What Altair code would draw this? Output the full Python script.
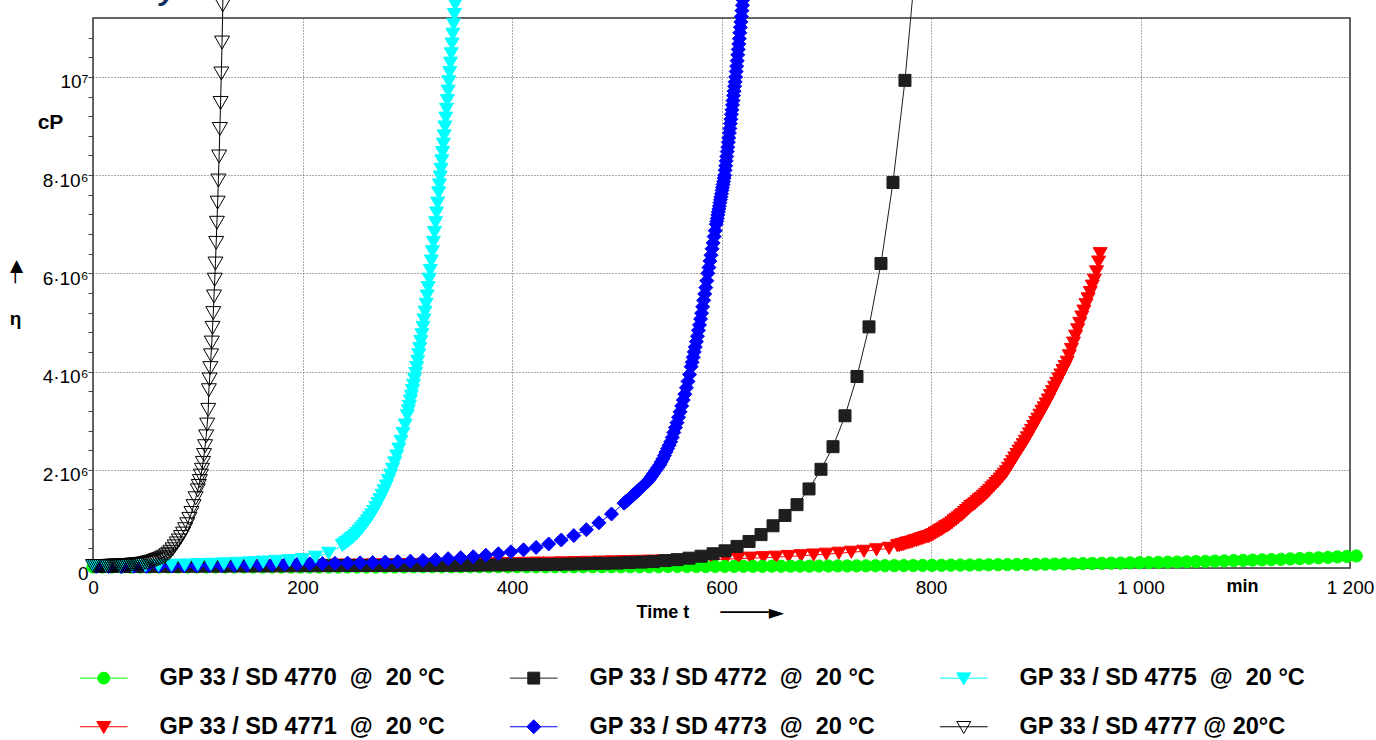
import altair as alt
import pandas as pd

# Viscosity build-up of GP 33 with the SD 47xx hardeners at 20 °C.
# Times in min, viscosities in 10^6 cP.

t_4770 = [0, 9, 18, 27, 36, 45, 54, 63, 72, 81, 90, 99, 108, 117, 126, 135, 144, 153, 162, 171,
          180, 189, 198, 207, 216, 225, 234, 243, 252, 261, 270, 279, 288, 297,
          306, 315, 324, 333, 342, 351, 360, 369, 378, 387, 396, 405, 414, 423, 432, 441,
          450, 459, 468, 477, 486, 495, 504, 513, 522, 531, 540,
          549, 558, 567, 576, 585, 594, 603, 612, 621, 630, 639, 648, 657, 666, 675, 684,
          693, 702, 711, 720, 729, 738, 747, 756, 765, 774, 783, 792, 801, 810, 819, 828,
          837, 846, 855, 864, 873, 882, 891, 900, 909, 918, 927, 936, 945, 954, 963, 972,
          981, 990, 999, 1008, 1017, 1026, 1035, 1044, 1053, 1062, 1071, 1080, 1089, 1098,
          1107, 1116, 1125, 1134, 1143, 1152, 1161, 1170, 1179, 1188, 1197, 1206]
v_4770 = [0.02, 0.02, 0.02, 0.02, 0.02, 0.02, 0.02, 0.02, 0.02, 0.02, 0.02, 0.02, 0.02, 0.02,
          0.02, 0.02, 0.02, 0.02, 0.02, 0.02, 0.02, 0.02, 0.02, 0.02, 0.02, 0.02, 0.02, 0.02,
          0.02, 0.02, 0.02, 0.02, 0.02, 0.02,
          0.025, 0.025, 0.025, 0.025, 0.025, 0.025, 0.025, 0.025, 0.025, 0.025, 0.025, 0.025,
          0.025, 0.025, 0.025, 0.025, 0.025, 0.025, 0.025, 0.025, 0.025, 0.025, 0.025, 0.025,
          0.025, 0.025, 0.025,
          0.03, 0.03, 0.03, 0.03, 0.03, 0.032, 0.032, 0.032, 0.034, 0.034, 0.034, 0.036, 0.036,
          0.036, 0.038, 0.038, 0.04, 0.04, 0.042, 0.042, 0.044, 0.044, 0.046, 0.046, 0.048, 0.05,
          0.05, 0.052, 0.054, 0.055, 0.057, 0.059, 0.061, 0.063, 0.065, 0.067, 0.069, 0.071,
          0.073, 0.075, 0.078, 0.08, 0.083, 0.086, 0.089, 0.092, 0.095, 0.098, 0.10, 0.104,
          0.107, 0.11, 0.114, 0.118, 0.122, 0.126, 0.13, 0.135, 0.14, 0.145, 0.15, 0.155, 0.16,
          0.166, 0.172, 0.178, 0.185, 0.192, 0.2, 0.208, 0.216, 0.225, 0.235, 0.245]

t_4771 = [4, 16, 28, 40, 52, 64, 76, 88, 100, 112, 124, 136, 148, 160, 172, 184, 196, 208, 220,
          232, 244, 256, 268, 280, 292, 304, 316, 328, 340, 352, 364, 376, 388, 400, 412, 424,
          436, 448, 460, 472, 484, 496, 508, 520, 532, 544, 556, 568, 580, 592, 604, 616, 628,
          640, 652, 664, 676, 688, 700, 712, 724, 736, 748, 760,
          768, 770, 772, 774, 776, 778, 780, 782, 784, 786, 788, 790, 792, 794, 796, 798,
          800, 802, 804, 806, 808, 810, 812, 814, 816, 818, 820, 822, 824, 826, 828, 830, 832,
          834, 836, 838, 840, 842, 844, 846, 848, 850, 852, 854, 856, 858, 860, 862, 864, 866,
          868, 870, 872, 874, 876, 878, 880, 882, 884, 886, 888, 890, 892, 894, 896, 898, 900,
          902, 904, 906, 908, 910, 912, 914, 916, 918, 920, 922, 924, 926, 928, 930, 932, 934,
          936, 938, 940, 942, 944, 946, 948, 950, 952, 954, 956, 958, 960, 961.5]
v_4771 = [0.03, 0.03, 0.03, 0.03, 0.035, 0.035, 0.035, 0.04, 0.04, 0.04, 0.045, 0.045, 0.045,
          0.05, 0.05, 0.05, 0.055, 0.055, 0.055, 0.06, 0.06, 0.06, 0.065, 0.065, 0.07, 0.07,
          0.075, 0.075, 0.08, 0.08, 0.085, 0.085, 0.09, 0.09, 0.095, 0.10, 0.10, 0.105, 0.11,
          0.115, 0.12, 0.125, 0.13, 0.135, 0.14, 0.145, 0.15, 0.16, 0.165, 0.17, 0.18, 0.19,
          0.20, 0.21, 0.22, 0.235, 0.25, 0.265, 0.28, 0.30, 0.32, 0.34, 0.37, 0.40,
          0.45, 0.46, 0.47, 0.48, 0.50, 0.51, 0.52, 0.53, 0.55, 0.56, 0.57, 0.59, 0.60, 0.62,
          0.63, 0.64,
          0.66, 0.68, 0.71, 0.73, 0.76, 0.78, 0.81, 0.84, 0.86, 0.89, 0.92, 0.96, 0.99, 1.02,
          1.06, 1.09, 1.13, 1.17, 1.21, 1.25, 1.28,
          1.31, 1.35, 1.39, 1.42, 1.46, 1.50, 1.54, 1.58, 1.63, 1.67, 1.72, 1.76, 1.81, 1.86,
          1.91, 1.96,
          2.03, 2.10, 2.17, 2.24, 2.31, 2.38, 2.44, 2.51, 2.58,
          2.65, 2.73, 2.80, 2.88, 2.96, 3.03, 3.11, 3.19, 3.26, 3.34,
          3.42, 3.51, 3.59, 3.68, 3.76, 3.85, 3.93, 4.02, 4.10, 4.19,
          4.32, 4.45, 4.58, 4.72, 4.85, 4.98,
          5.11, 5.23, 5.36, 5.48, 5.61, 5.74, 5.86,
          6.03, 6.23, 6.40]

t_4772 = [8.0, 19.45, 30.9, 42.35, 53.8, 65.25, 76.7, 88.15, 99.6, 111.05, 122.5, 133.95, 145.4,
          156.85, 168.3, 179.75, 191.2, 202.65, 214.1, 225.55, 237.0, 248.45, 259.9, 271.35,
          282.8, 294.25, 305.7, 317.15, 328.6, 340.05, 351.5, 362.95, 374.4, 385.85, 397.3,
          408.75, 420.2, 431.65, 443.1, 454.55, 466.0, 477.45, 488.9, 500.35, 511.8, 523.25,
          534.7, 546.15, 557.6, 569.05, 580.5, 591.95, 603.4, 614.85, 626.3, 637.75, 649.2,
          660.65, 672.1, 683.55, 695.0, 706.45, 717.9, 729.35, 740.8, 752.25, 763.7, 775.15,
          786.6]
v_4772 = [0.03, 0.03, 0.03, 0.032, 0.032, 0.034, 0.034, 0.036, 0.036, 0.038,
          0.038, 0.04, 0.04, 0.042, 0.042, 0.044, 0.045, 0.046, 0.047, 0.048,
          0.049, 0.05, 0.05, 0.051, 0.052, 0.053, 0.054, 0.054, 0.055, 0.055,
          0.056, 0.058, 0.06, 0.062, 0.064, 0.067, 0.07, 0.072, 0.075, 0.08,
          0.085, 0.09, 0.095, 0.10, 0.11, 0.12, 0.13, 0.15, 0.17, 0.20,
          0.24, 0.29, 0.35, 0.44, 0.54, 0.68, 0.86, 1.07, 1.29, 1.61,
          2.01, 2.47, 3.10, 3.90, 4.91, 6.20, 7.85, 9.93, 12.6]

t_4773 = [3, 15, 27, 39, 51, 63, 75, 87, 99, 111, 123, 135, 147, 159, 171, 183, 195, 207, 219,
          231, 243, 255, 267, 279, 291, 303, 315, 327, 339, 351, 363, 375, 387, 399, 411, 423,
          435, 447, 459, 471, 483, 495,
          507, 509, 511, 513, 515, 517, 519, 521, 523, 525, 527, 529, 531, 533, 535, 537, 539, 541,
          542.5, 544, 545.5, 547, 548.5, 550, 551.5, 553, 554.5, 556, 557.5, 559, 560.5, 562,
          563.5, 565, 566.5, 568, 569.5,
          571, 572, 573, 574, 575, 576, 577, 578, 579, 580, 581, 582, 583, 584, 585, 586, 587,
          588, 589, 590, 591, 592, 593, 594, 595,
          595.5, 596, 596.5, 597, 597.5, 598, 598.5, 599, 599.5, 600, 600.5, 601, 601.5, 602,
          602.5, 603, 603.5, 604, 604.5, 605, 605.5, 606, 606.5, 607, 607.5, 608, 608.5, 609,
          609.5, 610, 610.5, 611, 611.5, 612, 612.5, 613, 613.5, 614, 614.5, 615, 615.5, 616,
          616.5, 617, 617.5, 618, 618.5, 619, 619.5, 620, 620.5, 621]
v_4773 = [0.03, 0.03, 0.03, 0.035, 0.035, 0.04, 0.04, 0.045, 0.045, 0.05, 0.05, 0.055, 0.06,
          0.065, 0.07, 0.075, 0.08, 0.085, 0.09, 0.095, 0.10, 0.105, 0.11, 0.12, 0.13, 0.14,
          0.155, 0.17, 0.19, 0.21, 0.23, 0.26, 0.29, 0.33, 0.37, 0.42, 0.49, 0.57, 0.66, 0.78,
          0.92, 1.10,
          1.32, 1.36, 1.39, 1.43, 1.47, 1.51, 1.55, 1.59, 1.63, 1.67, 1.71, 1.75, 1.80, 1.86,
          1.92, 1.98, 2.04, 2.10,
          2.16, 2.22, 2.29, 2.36, 2.43, 2.50, 2.57, 2.66, 2.76, 2.86, 2.96, 3.07, 3.18, 3.30,
          3.42, 3.54, 3.67, 3.80, 3.94,
          4.10, 4.19, 4.29, 4.40, 4.50, 4.61, 4.72, 4.84, 4.95, 5.07, 5.19, 5.32, 5.45, 5.58,
          5.71, 5.85, 6.00, 6.12, 6.25, 6.37, 6.50, 6.62, 6.75, 6.87, 7.00,
          7.06, 7.12, 7.19, 7.25, 7.31, 7.37, 7.44, 7.50, 7.56, 7.62, 7.69, 7.75, 7.81, 7.87,
          7.94, 8.00, 8.10, 8.19, 8.29, 8.38, 8.48, 8.57, 8.67, 8.76, 8.86, 8.95, 9.05, 9.14,
          9.24, 9.33, 9.43, 9.52, 9.62, 9.71, 9.81, 9.90, 10.00, 10.11, 10.22, 10.33, 10.45,
          10.56, 10.67, 10.78, 10.90, 11.01, 11.12, 11.23, 11.35, 11.46, 11.57, 11.68]

t_4775 = [0, 12.5, 25, 37.5, 50, 62.5, 75, 87.5, 100, 112.5, 125, 137.5, 150, 162.5, 175,
          187.5, 200, 212.5, 225,
          238, 240, 242, 244, 246, 248, 250, 252, 254, 256, 258, 260, 262, 264, 266, 268, 270,
          272, 274, 276, 278, 280, 282, 284, 286, 288, 290, 292, 294, 296, 298, 300,
          301, 302, 303, 304, 305, 306, 307, 308, 309, 310, 311, 312, 313, 314, 315, 316, 317,
          318, 319, 320, 321, 322, 323, 324, 325, 326, 327, 328, 329, 330,
          330.75, 331.5, 332.25, 333, 333.75, 334.5, 335.25, 336, 336.75, 337.5, 338.25, 339,
          339.75, 340.5, 341.25, 342, 342.75, 343.5, 344.25, 345, 345.75, 346.5]
v_4775 = [0.03, 0.03, 0.035, 0.04, 0.045, 0.05, 0.055, 0.06, 0.07, 0.075, 0.085, 0.095, 0.105,
          0.12, 0.135, 0.15, 0.17, 0.22, 0.30,
          0.46, 0.49, 0.52, 0.55, 0.59, 0.62, 0.66, 0.70, 0.75, 0.80, 0.85, 0.90, 0.96, 1.02,
          1.08, 1.15, 1.23, 1.31, 1.39, 1.48, 1.57, 1.67, 1.78, 1.89, 2.01, 2.14, 2.28, 2.42,
          2.58, 2.74, 2.91, 3.10,
          3.20, 3.29, 3.40, 3.50, 3.61, 3.72, 3.84, 3.96, 4.08, 4.21, 4.34, 4.47, 4.61, 4.75,
          4.90, 5.05, 5.21, 5.37, 5.54, 5.71, 5.88, 6.06, 6.25, 6.44, 6.63, 6.83, 7.03, 7.23,
          7.43, 7.64,
          7.80, 7.96, 8.12, 8.29, 8.46, 8.63, 8.80, 8.98, 9.16, 9.34, 9.52, 9.71, 9.90, 10.09,
          10.28, 10.47, 10.67, 10.87, 11.07, 11.27, 11.47, 11.68]

t_4777 = [0, 2, 4, 6, 8, 10, 12, 14, 16, 18, 20, 22, 24, 26, 28, 30, 32, 34, 36, 38, 40, 42,
          44, 46, 48, 50, 52, 54, 56, 58, 60, 62, 64, 66, 68, 70, 72, 74, 76, 78, 80, 82, 84,
          86, 88, 90, 92, 94, 96, 98, 100,
          101, 102, 103, 104, 105, 106, 107, 108, 109, 110,
          110.6, 111.3, 112.0, 112.7, 113.4, 114.1, 114.8, 115.5, 116.2, 116.9, 117.6, 118.3,
          119.0, 119.7, 120.4, 121.1, 121.8, 122.5, 123.2, 123.9, 124.6]
v_4777 = [0.04, 0.04, 0.04, 0.04, 0.04, 0.04, 0.04, 0.04, 0.045, 0.045, 0.05, 0.05, 0.05,
          0.05, 0.055, 0.055, 0.06, 0.06, 0.065, 0.07, 0.07, 0.075, 0.08, 0.085, 0.09, 0.10,
          0.11, 0.12, 0.13, 0.145, 0.16, 0.175, 0.19, 0.21, 0.23, 0.26, 0.29, 0.33, 0.38,
          0.44, 0.50, 0.56, 0.63, 0.70, 0.79, 0.89, 1.00, 1.12, 1.26, 1.42, 1.58,
          1.67, 1.77, 1.88, 2.00, 2.14, 2.30, 2.48, 2.68, 2.92, 3.22,
          3.62, 3.84, 4.07, 4.33, 4.59, 4.89, 5.19, 5.53, 5.87, 6.20, 6.62, 7.03, 7.44, 7.89,
          8.38, 8.94, 9.47, 10.07, 10.70, 11.46, 12.30]

SERIES = {
    "4770": (t_4770, v_4770),
    "4771": (t_4771, v_4771),
    "4772": (t_4772, v_4772),
    "4773": (t_4773, v_4773),
    "4775": (t_4775, v_4775),
    "4777": (t_4777, v_4777),
}
NB = "\u00a0"
NAMES = {
    "4770": f"GP 33 / SD 4770{NB} @{NB} 20 °C",
    "4771": f"GP 33 / SD 4771{NB} @{NB} 20 °C",
    "4772": f"GP 33 / SD 4772{NB} @{NB} 20 °C",
    "4773": f"GP 33 / SD 4773{NB} @{NB} 20 °C",
    "4775": f"GP 33 / SD 4775{NB} @{NB} 20 °C",
    "4777": "GP 33 / SD 4777 @ 20°C",
}
# the legend grid is filled column by column (two rows)
LEGEND_ORDER = ["4770", "4771", "4772", "4773", "4775", "4777"]
DRAW_ORDER = ["4771", "4770", "4772", "4773", "4775", "4777"]

COLORS = {"4770": "#00ff00", "4771": "#ff0000", "4772": "#1e1e1e",
          "4773": "#0000ff", "4775": "#00ffff", "4777": "#000000"}
FILLS = dict(COLORS, **{"4777": "transparent"})
SHAPES = {"4770": "circle", "4771": "triangle-down", "4772": "square",
          "4773": "diamond", "4775": "triangle-down", "4777": "triangle-down"}
SIZES = {"4770": 150, "4771": 196, "4772": 144, "4773": 196, "4775": 196, "4777": 225}
# legend glyphs: short line segment with the marker in its middle
LEG_TRI = "M-3.4,0H3.4M-1,-0.75H1L0,0.95Z"
LEGEND_SYMBOLS = {
    "4770": "M-3.4,0H3.4M0.85,0A0.85,0.85,0,1,1,-0.85,0A0.85,0.85,0,1,1,0.85,0Z",
    "4771": LEG_TRI,
    "4772": "M-3.4,0H3.4M-0.85,-0.85H0.85V0.85H-0.85Z",
    "4773": "M-3.4,0H3.4M0,-1L1,0L0,1L-1,0Z",
    "4775": LEG_TRI,
    "4777": LEG_TRI,
}

rows = []
for sid in DRAW_ORDER:
    ts, vs = SERIES[sid]
    for t, v in zip(ts, vs):
        rows.append({"sid": sid, "name": NAMES[sid], "t": t, "v": v})
df = pd.DataFrame(rows)

REG = "Liberation Sans"
ARROW_FONT = "DejaVu Sans"

xscale = alt.Scale(domain=[0, 1200], nice=False, zero=False)
yscale = alt.Scale(domain=[0, 11.2], nice=False, zero=False)
name_domain = [NAMES[s] for s in LEGEND_ORDER]
stroke_scale = alt.Scale(domain=name_domain, range=[COLORS[s] for s in LEGEND_ORDER])
fill_scale = alt.Scale(domain=name_domain, range=[FILLS[s] for s in LEGEND_ORDER])
shape_scale = alt.Scale(domain=name_domain, range=[LEGEND_SYMBOLS[s] for s in LEGEND_ORDER])


def bare_axis(orient, color="black", **kw):
    return alt.Axis(orient=orient, labels=False, ticks=False, domain=False, grid=False,
                    titleColor=color, **kw)


x_axis = alt.Axis(
    orient="bottom", values=[0, 200, 400, 600, 800, 1000, 1200],
    labelExpr="datum.value >= 1000 ? replace(format(datum.value, ','), ',', ' ') : datum.label",
    labelFont=REG, labelFontSize=19, labelColor="black", labelPadding=10,
    labelFlush=False, labelOverlap=False,
    ticks=False, domain=False, grid=True, gridColor="#555", gridDash=[1, 2], gridWidth=1,
    title="Time t", titleFont=REG, titleFontSize=18, titleFontWeight="bold",
    titleColor="black", titleX=543, titleY=44, titleAlign="left", titleBaseline="middle",
)
y_axis = alt.Axis(
    orient="left", values=[0, 2, 4, 6, 8, 10],
    labelExpr="datum.value == 0 ? '0' : (datum.value == 10 ? '10\u2077' : datum.value + '\u00b710\u2076')",
    labelFont=REG, labelFontSize=19, labelColor="black", labelPadding=5, labelOffset=5,
    labelFlush=False, labelOverlap=False,
    ticks=False, domain=False, grid=True, gridColor="#555", gridDash=[1, 2], gridWidth=1,
    title="\u03b7", titleFont=REG, titleFontSize=19, titleFontWeight="bold", titleColor="black",
    titleAngle=0, titleX=-78, titleY=300, titleAlign="center", titleBaseline="middle",
)
x_unit_axis = bare_axis(
    "bottom", title="min", titleFont=REG, titleFontSize=18, titleFontWeight="bold",
    titleX=1149, titleY=18, titleAlign="center", titleBaseline="middle",
)
y_minor_axis = alt.Axis(
    orient="left",
    values=[0.4, 0.8, 1.2, 1.6, 2.0, 2.4, 2.8, 3.2, 3.6, 4.0, 4.4, 4.8, 5.2, 5.6, 6.0, 6.4,
            6.8, 7.2, 7.6, 8.0, 8.4, 8.8, 9.2, 9.6, 10.0, 10.4, 10.8],
    labels=False, ticks=True, tickSize=5, tickColor="#444", tickWidth=1,
    domain=False, grid=False,
    title="cP", titleFont=REG, titleFontSize=21, titleFontWeight="bold", titleColor="black",
    titleAngle=0, titleX=-43, titleY=104, titleAlign="center", titleBaseline="middle",
)
# arrows beside the axis names
x_arrow_axis = bare_axis(
    "bottom", title="\u2500\u2500\u2500\u2500\u25ba", titleFont=ARROW_FONT, titleFontSize=20,
    titleFontWeight="normal", titleX=627, titleY=44, titleAlign="left", titleBaseline="middle",
)
y_arrow_axis = bare_axis(
    "left", title="\u2500\u25b6", titleFont=ARROW_FONT, titleFontSize=17,
    titleFontWeight="normal", titleAngle=-90, titleX=-78, titleY=253,
    titleAlign="center", titleBaseline="middle",
)
# heading above the frame, running off the top edge
heading_axis = bare_axis(
    "top", color="#0b2d5e", title="Viscosity", titleFont=REG, titleFontSize=30,
    titleFontWeight="bold", titleFontStyle="italic", titleX=-48, titleY=-19,
    titleAlign="left", titleBaseline="alphabetic",
)

legend = alt.Legend(
    orient="none", legendX=-1, legendY=648, columns=3, title=None,
    labelFont=REG, labelFontSize=23.5, labelFontWeight="bold", labelColor="black",
    labelOffset=44, labelLimit=600, columnPadding=61, rowPadding=24,
    symbolSize=196, symbolStrokeWidth=1, gridAlign="all", padding=0,
)

line_layers = []
for i, sid in enumerate(DRAW_ORDER):
    line_layers.append(
        alt.Chart(df)
        .transform_filter(alt.datum.sid == sid)
        .mark_line(stroke=COLORS[sid], strokeWidth=1, clip=False)
        .encode(
            x=alt.X("t:Q", scale=xscale, axis=x_axis if i == 0 else None),
            y=alt.Y("v:Q", scale=yscale, axis=y_axis if i == 0 else None),
        )
    )

point_layers = []
for sid in DRAW_ORDER:
    point_layers.append(
        alt.Chart(df)
        .transform_filter(alt.datum.sid == sid)
        .mark_point(shape=SHAPES[sid], size=SIZES[sid], fill=FILLS[sid], stroke=COLORS[sid],
                    strokeWidth=1, opacity=1, fillOpacity=1, clip=False)
        .encode(
            x=alt.X("t:Q", scale=xscale, axis=None),
            y=alt.Y("v:Q", scale=yscale, axis=None),
        )
    )

# the layers below carry the legend, unit labels, arrows and minor ticks; they draw no points
guide_layer = alt.Chart(df).transform_filter("false").mark_point(
    opacity=1, strokeWidth=1
).encode(
    x=alt.X("t:Q", scale=xscale, axis=x_unit_axis),
    y=alt.Y("v:Q", scale=yscale, axis=y_minor_axis),
    stroke=alt.Stroke("name:N", scale=stroke_scale, legend=legend),
    fill=alt.Fill("name:N", scale=fill_scale, legend=legend),
    shape=alt.Shape("name:N", scale=shape_scale, legend=legend),
)
arrow_layer = alt.Chart(df).transform_filter("false").mark_point().encode(
    x=alt.X("t:Q", scale=xscale, axis=x_arrow_axis),
    y=alt.Y("v:Q", scale=yscale, axis=y_arrow_axis),
)
heading_layer = alt.Chart(df).transform_filter("false").mark_point().encode(
    x=alt.X("t:Q", scale=xscale, axis=heading_axis),
    y=alt.Y("v:Q", scale=yscale, axis=None),
)

chart = (
    alt.layer(*line_layers, *point_layers, guide_layer, arrow_layer, heading_layer)
    .resolve_axis(x="independent", y="independent")
    .properties(
        width=1257, height=550,
        padding={"left": 93, "top": 18, "right": 26, "bottom": 172},
        autosize=alt.AutoSizeParams(type="none"),
    )
    .configure(background="white")
    .configure_view(stroke="#333", strokeWidth=1.5)
)

chart.save("out.html", embed_options={"renderer": "svg", "actions": False})
